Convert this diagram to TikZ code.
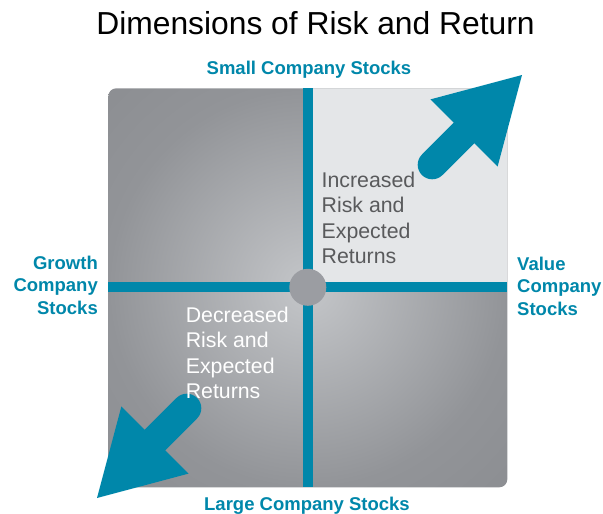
\documentclass[tikz,border=0pt]{standalone}
\usepackage{fontspec}
\setmainfont{Liberation Sans}

\definecolor{riskteal}{RGB}{0,135,170}
\definecolor{paneldark}{HTML}{8C8E92}
\definecolor{panelmid}{HTML}{929498}
\definecolor{panellight}{HTML}{C4C6C9}
\definecolor{quadlight}{HTML}{E4E6E8}
\definecolor{hubgray}{HTML}{9B9DA2}
\definecolor{bodygray}{HTML}{595A5C}

% light centre fading to darker edges of the panel
\pgfdeclareradialshading{panelshade}{\pgfpoint{0bp}{0bp}}{%
  color(0bp)=(panellight); color(25bp)=(panelmid);
  color(36bp)=(paneldark); color(50bp)=(paneldark)}

\tikzset{
  axislabel/.style={font=\bfseries\fontsize{18.5}{22.5}\selectfont,
    text=riskteal, inner sep=0pt},
  quadtext/.style={font=\fontsize{21.3}{25.5}\selectfont,
    anchor=north west, align=left, inner sep=0pt},
  divider/.style={draw=riskteal, line width=10pt},
  arrowshaft/.style={draw=riskteal, line width=29pt, line cap=round},
  arrowhead/.style={fill=riskteal},
}

\begin{document}
\begin{tikzpicture}[x=1pt,y=-1pt]
\useasboundingbox (0,0) rectangle (603,514);

% panel corners and axis ends
\coordinate (nw) at (108.3,88.3);
\coordinate (se) at (507.3,487.3);
\coordinate (axTop) at (307.8,88.3);
\coordinate (axBottom) at (307.8,487.3);
\coordinate (axLeft) at (108.3,287.3);
\coordinate (axRight) at (507.3,287.3);

% shaded panel
\shade[shading=panelshade, rounded corners=8pt] (nw) rectangle (se);

% light upper-right quadrant
\begin{scope}
  \clip[rounded corners=8pt] (nw) rectangle (se);
  \fill[quadlight] (axTop) rectangle (axRight);
\end{scope}

% dividing axes
\draw[divider] (axTop) -- (axBottom);
\draw[divider] (axLeft) -- (axRight);

% centre hub
\node[circle, fill=hubgray, minimum size=37pt, inner sep=0pt] (hub) at (307.8,287.3) {};

% arrow towards higher risk
\coordinate (urTail) at (432.2,164.8);
\coordinate (urBase) at (466,131);
\coordinate (urTip) at (522,75);
\coordinate (urLeft) at (430.4,99.4);
\coordinate (urRight) at (497.6,166.6);
\draw[arrowshaft] (urTail) -- (urBase);
\fill[arrowhead] (urLeft) -- (urTip) -- (urRight) -- cycle;

% arrow towards lower risk
\coordinate (llTail) at (186.8,408.2);
\coordinate (llBase) at (153,442);
\coordinate (llTip) at (97,498);
\coordinate (llTop) at (121.4,406.4);
\coordinate (llBottom) at (188.6,473.6);
\draw[arrowshaft] (llTail) -- (llBase);
\fill[arrowhead] (llTop) -- (llTip) -- (llBottom) -- cycle;

% quadrant captions
\node[quadtext, text=bodygray] (increased) at (321.5,171.7)
  {Increased\\Risk and\\Expected\\Returns};
\node[quadtext, text=white] (decreased) at (185.6,306.7)
  {Decreased\\Risk and\\Expected\\Returns};

% title and axis labels
\node[font=\fontsize{31.8}{36}\selectfont, anchor=base, inner sep=0pt] (title)
  at (315.5,34.3) {Dimensions of Risk and Return};
\node[axislabel, anchor=base] (small) at (309,74) {Small Company Stocks};
\node[axislabel, anchor=base] (large) at (307,510.7) {Large Company Stocks};
\node[axislabel, anchor=north east, align=right] (growth) at (98,255.5)
  {Growth\\Company\\Stocks};
\node[axislabel, anchor=north west, align=left] (value) at (517,256.5)
  {Value\\Company\\Stocks};
\end{tikzpicture}
\end{document}
